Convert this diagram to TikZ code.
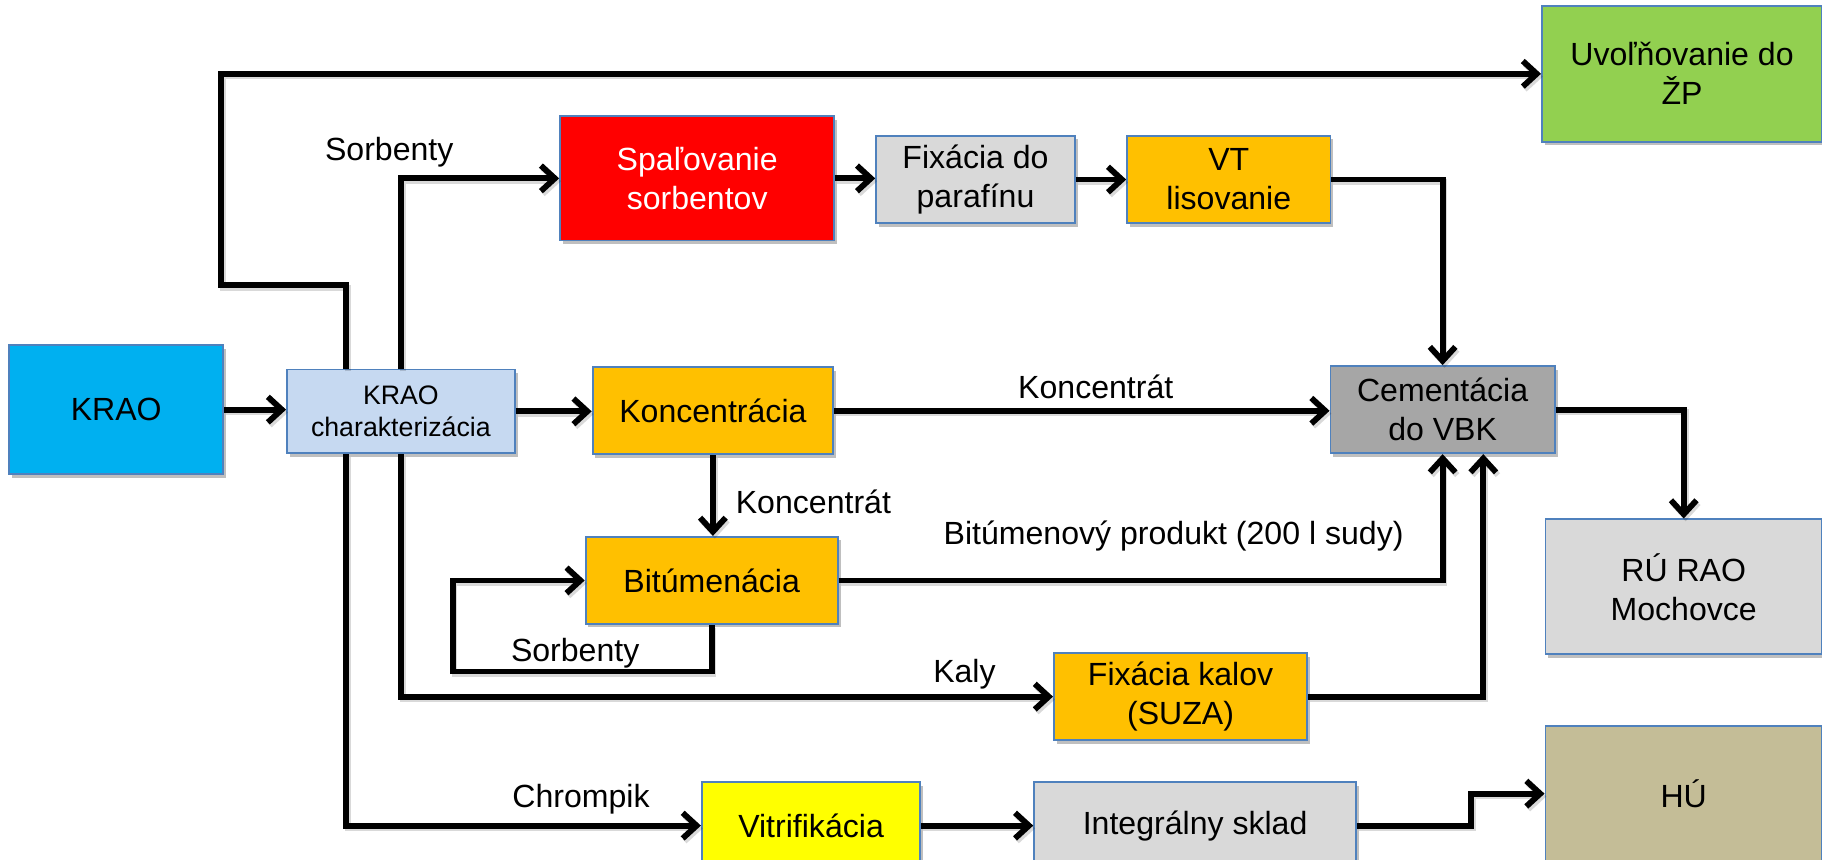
\documentclass[tikz,border=0pt]{standalone}
\usepackage{fontspec}
\setmainfont{Liberation Sans}
\usetikzlibrary{arrows.meta,calc,shadows}
\definecolor{bordc}{HTML}{4F81BD}
\definecolor{ccyan}{HTML}{00B0F0}
\definecolor{clblue}{HTML}{C6D9F1}
\definecolor{cred}{HTML}{FF0000}
\definecolor{clgray}{HTML}{D9D9D9}
\definecolor{corange}{HTML}{FFC000}
\definecolor{cgreen}{HTML}{92D050}
\definecolor{cgray}{HTML}{A6A6A6}
\definecolor{cyellow}{HTML}{FFFF00}
\definecolor{ctan}{HTML}{C4BD97}
\begin{document}
\begin{tikzpicture}[x=0.5pt,y=-0.5pt,
  box/.style={draw=bordc, line width=0.8pt, align=center, inner sep=2pt,
    font=\fontsize{13.8}{16.8}\selectfont,
    drop shadow={shadow xshift=1.2pt, shadow yshift=-1.5pt, opacity=0.25, fill=black}},
  arr/.style={line width=2.5pt, -{Straight Barb[length=6pt,width=11pt]},
    preaction={draw, black, opacity=0.15, line width=2.5pt, transform canvas={shift={(0.8pt,-1.2pt)}}}},
  lbl/.style={font=\fontsize{13.8}{16.8}\selectfont, inner sep=0pt}]
\useasboundingbox (0,0) rectangle (1568,740);
\clip (0,0) rectangle (1568,740);

% boxes
\node[box, fill=ccyan, minimum width=92pt, minimum height=55.5pt] (krao) at (100,352.5) {KRAO};
\node[box, fill=clblue, minimum width=98pt, minimum height=36pt, font=\fontsize{11.5}{14}\selectfont] (char) at (345,354) {KRAO\\charakterizácia};
\node[box, fill=cred, text=white, minimum width=118pt, minimum height=53.5pt] (spal) at (600,153.5) {Spaľovanie\\sorbentov};
\node[box, fill=clgray, minimum width=85.5pt, minimum height=37.5pt] (fixp) at (839.5,154.5) {Fixácia do\\parafínu};
\node[box, fill=corange, minimum width=87.5pt, minimum height=37.5pt] (vt) at (1057.5,154.5) {VT\\lisovanie};
\node[box, fill=cgreen, minimum width=120.5pt, minimum height=58.5pt] (uvol) at (1447.5,63.5) {Uvoľňovanie do\\ŽP};
\node[box, fill=corange, minimum width=103.5pt, minimum height=37.5pt] (konc) at (613.5,353.5) {Koncentrácia};
\node[box, fill=cgray, minimum width=96.5pt, minimum height=37.5pt] (cem) at (1241.5,352.5) {Cementácia\\do VBK};
\node[box, fill=clgray, minimum width=119pt, minimum height=58pt] (ru) at (1449,505) {RÚ RAO\\Mochovce};
\node[box, fill=corange, minimum width=108.5pt, minimum height=37.5pt] (bit) at (612.5,499.5) {Bitúmenácia};
\node[box, fill=corange, minimum width=109pt, minimum height=37.5pt] (fixk) at (1016,599.5) {Fixácia kalov\\(SUZA)};
\node[box, fill=cyellow, minimum width=94pt, minimum height=37.5pt] (vitr) at (698,710.5) {Vitrifikácia};
\node[box, fill=clgray, minimum width=138.5pt, minimum height=37.5pt] (integ) at (1028.5,710.5) {Integrálny sklad};
\node[box, fill=ctan, minimum width=119pt, minimum height=58pt] (hu) at (1449,683) {HÚ};

% connectors
\draw[arr] (krao.east) -- (krao.east -| char.west);
\draw[arr] (char.east) -- (char.east -| konc.west);
\draw[arr] (konc.east) -- (konc.east -| cem.west);
\draw[arr] ($(char.north)+(-47,0)$) -- ++(0,-72) -- ++(-108,0) |- (uvol.west);
\draw[arr] (char.north) |- (spal.west);
\draw[arr] (spal.east) -- (spal.east -| fixp.west);
\draw[arr] (fixp.east) -- (vt.west);
\draw[arr] (vt.east) -| (cem.north);
\draw[arr] (konc.south) -- (konc.south |- bit.north);
\draw[arr] (bit.south) -- ++(0,40) -- ++(-223,0) |- (bit.west);
\draw[arr] (bit.east) -| (cem.south);
\draw[arr] (char.south) |- (fixk.west);
\draw[arr] (fixk.east) -| ($(cem.south)+(35,0)$);
\draw[arr] (cem.east) -| (ru.north);
\draw[arr] ($(char.south)+(-47,0)$) |- (vitr.west);
\draw[arr] (vitr.east) -- (integ.west);
\draw[arr] (integ.east) -- ++(98,0) |- (hu.west);

% labels
\node[lbl] (l1) at (335,131) {Sorbenty};
\node[lbl] (l2) at (943,333) {Koncentrát};
\node[lbl] (l3) at (700,432) {Koncentrát};
\node[lbl] (l4) at (1010,461) {Bitúmenový produkt (200 l sudy)};
\node[lbl] (l5) at (495,562) {Sorbenty};
\node[lbl] (l6) at (830,580) {Kaly};
\node[lbl] (l7) at (500,688) {Chrompik};
\end{tikzpicture}
\end{document}
